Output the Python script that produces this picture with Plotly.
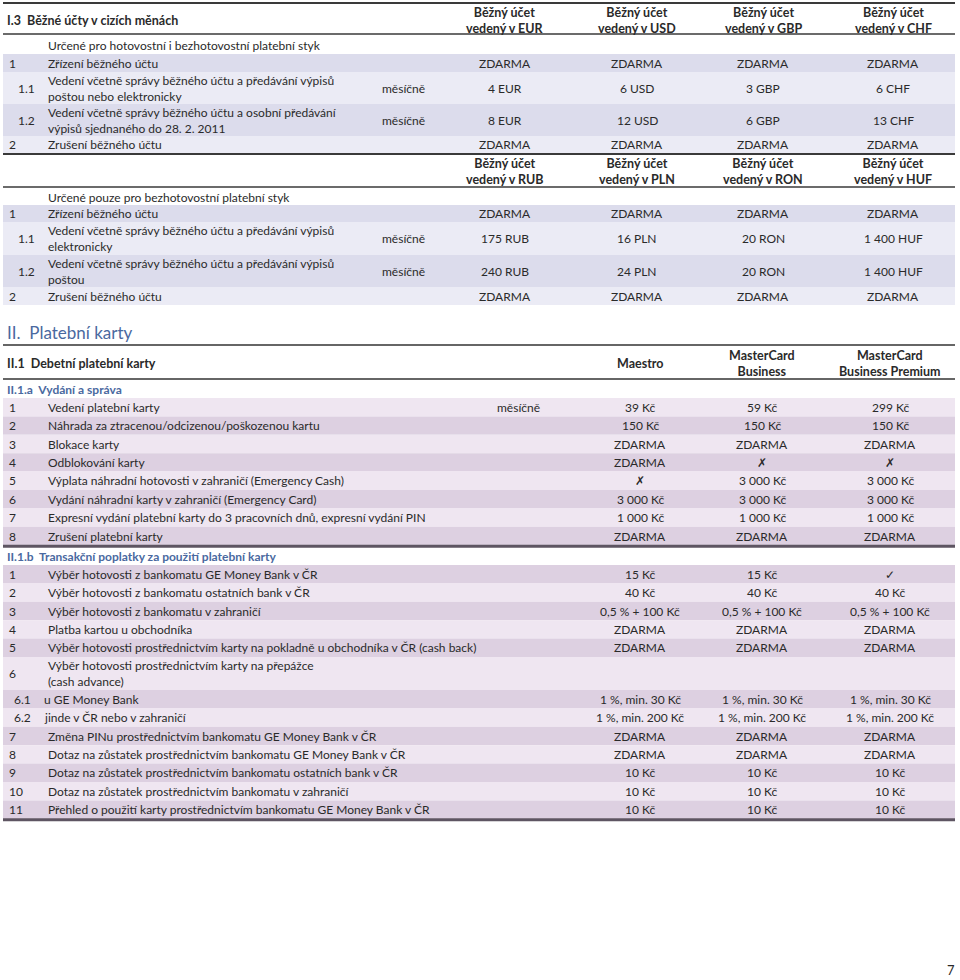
import plotly.graph_objects as go

# ---------------- data ----------------
fx_cols_a = ["EUR", "USD", "GBP", "CHF"]
fx_cols_b = ["RUB", "PLN", "RON", "HUF"]
fx_nums = ["1", "1.1", "1.2", "2"]
fx_labels_a = [
    "Zřízení běžného účtu",
    "Vedení včetně správy běžného účtu a předávání výpisů<br>poštou nebo elektronicky",
    "Vedení včetně správy běžného účtu a osobní předávání<br>výpisů sjednaného do 28. 2. 2011",
    "Zrušení běžného účtu",
]
fx_labels_b = [
    "Zřízení běžného účtu",
    "Vedení včetně správy běžného účtu a předávání výpisů<br>elektronicky",
    "Vedení včetně správy běžného účtu a předávání výpisů<br>poštou",
    "Zrušení běžného účtu",
]
fx_period = ["", "měsíčně", "měsíčně", ""]
eur = ["ZDARMA", "4 EUR", "8 EUR", "ZDARMA"]
usd = ["ZDARMA", "6 USD", "12 USD", "ZDARMA"]
gbp = ["ZDARMA", "3 GBP", "6 GBP", "ZDARMA"]
chf = ["ZDARMA", "6 CHF", "13 CHF", "ZDARMA"]
rub = ["ZDARMA", "175 RUB", "240 RUB", "ZDARMA"]
pln = ["ZDARMA", "16 PLN", "24 PLN", "ZDARMA"]
ron = ["ZDARMA", "20 RON", "20 RON", "ZDARMA"]
huf = ["ZDARMA", "1 400 HUF", "1 400 HUF", "ZDARMA"]

card_cols = ["Maestro", "MasterCard<br>Business", "MasterCard<br>Business Premium"]

issue_nums = ["1", "2", "3", "4", "5", "6", "7", "8"]
issue_labels = [
    "Vedení platební karty",
    "Náhrada za ztracenou/odcizenou/poškozenou kartu",
    "Blokace karty",
    "Odblokování karty",
    "Výplata náhradní hotovosti v zahraničí (Emergency Cash)",
    "Vydání náhradní karty v zahraničí (Emergency Card)",
    "Expresní vydání platební karty do 3 pracovních dnů, expresní vydání PIN",
    "Zrušení platební karty",
]
issue_period = ["měsíčně", "", "", "", "", "", "", ""]
issue_maestro = ["39 Kč", "150 Kč", "ZDARMA", "ZDARMA", "✗", "3 000 Kč", "1 000 Kč", "ZDARMA"]
issue_business = ["59 Kč", "150 Kč", "ZDARMA", "✗", "3 000 Kč", "3 000 Kč", "1 000 Kč", "ZDARMA"]
issue_premium = ["299 Kč", "150 Kč", "ZDARMA", "✗", "3 000 Kč", "3 000 Kč", "1 000 Kč", "ZDARMA"]

tx_nums = ["1", "2", "3", "4", "5", "6", "6.1", "6.2", "7", "8", "9", "10", "11"]
tx_labels = [
    "Výběr hotovosti z bankomatu GE Money Bank v ČR",
    "Výběr hotovosti z bankomatu ostatních bank v ČR",
    "Výběr hotovosti z bankomatu v zahraničí",
    "Platba kartou u obchodníka",
    "Výběr hotovosti prostřednictvím karty na pokladně u obchodníka v ČR (cash back)",
    "Výběr hotovosti prostřednictvím karty na přepážce<br>(cash advance)",
    "u GE Money Bank",
    "jinde v ČR nebo v zahraničí",
    "Změna PINu prostřednictvím bankomatu GE Money Bank v ČR",
    "Dotaz na zůstatek prostřednictvím bankomatu GE Money Bank v ČR",
    "Dotaz na zůstatek prostřednictvím bankomatu ostatních bank v ČR",
    "Dotaz na zůstatek prostřednictvím bankomatu v zahraničí",
    "Přehled o použití karty prostřednictvím bankomatu GE Money Bank v ČR",
]
tx_maestro = ["15 Kč", "40 Kč", "0,5 % + 100 Kč", "ZDARMA", "ZDARMA", "",
              "1 %, min. 30 Kč", "1 %, min. 200 Kč", "ZDARMA", "ZDARMA",
              "10 Kč", "10 Kč", "10 Kč"]
tx_business = ["15 Kč", "40 Kč", "0,5 % + 100 Kč", "ZDARMA", "ZDARMA", "",
               "1 %, min. 30 Kč", "1 %, min. 200 Kč", "ZDARMA", "ZDARMA",
               "10 Kč", "10 Kč", "10 Kč"]
tx_premium = ["✓", "40 Kč", "0,5 % + 100 Kč", "ZDARMA", "ZDARMA", "",
              "1 %, min. 30 Kč", "1 %, min. 200 Kč", "ZDARMA", "ZDARMA",
              "10 Kč", "10 Kč", "10 Kč"]

# ---------------- styling ----------------
FONT = "Lato, 'Open Sans', sans-serif"
TXT = "#2a2a2a"
BLUE = "#4a69a0"
FX_BANDS = ["#dcdcec", "#ebebf5"]
CARD_BANDS = ["#efe6f1", "#ddd0e1"]
X0, X1 = 3, 955

ann = []
shapes = []


def text(x, y, s, anchor="left", size=12, color=TXT, bold=False):
    ann.append(dict(x=x, y=y, xref="x", yref="y", text=f"<b>{s}</b>" if bold else s,
                    showarrow=False, xanchor=anchor, yanchor="middle",
                    align="center" if anchor == "center" else "left",
                    font=dict(size=size, color=color, family=FONT)))


def band(y0, y1, color):
    shapes.append(dict(type="rect", xref="x", yref="y", x0=X0, x1=X1, y0=y0, y1=y1,
                       fillcolor=color, line_width=0, layer="below"))


def hline(y, width, color):
    shapes.append(dict(type="line", xref="x", yref="y", x0=X0, x1=X1, y0=y, y1=y,
                       line=dict(color=color, width=width)))


def rows(top, heights, colors, nums, labels, period, values, xcols, period_x,
         sub_x, sub_label_x):
    y = top
    for i, h in enumerate(heights):
        band(y, y + h, colors[i % 2])
        cy = y + h / 2
        if "." in nums[i]:
            text(sub_x, cy, nums[i], anchor="right")
            text(sub_label_x, cy, labels[i])
        else:
            text(7, cy, nums[i])
            text(46, cy, labels[i])
        if period[i]:
            text(period_x, cy, period[i])
        for xc, col in zip(xcols, values):
            if col[i]:
                text(xc, cy, col[i], anchor="center")
        y += h
    return y


# ---------- I.3 foreign currency accounts ----------
fx_x = [505, 637, 763, 893]
hline(3, 2, "#3a3a3a")
text(5, 20, "I.3  Běžné účty v cizích měnách", bold=True, size=12.5)
for xc, c in zip(fx_x, fx_cols_a):
    text(xc, 20, f"Běžný účet<br>vedený v {c}", anchor="center", bold=True, size=12.5)
hline(34, 1.5, "#3a3a3a")
text(46, 45, "Určené pro hotovostní i bezhotovostní platební styk")
rows(54, [18, 32, 32, 17], FX_BANDS, fx_nums, fx_labels_a, fx_period,
     [eur, usd, gbp, chf], fx_x, 380, 37, 46)
hline(154, 2, "#3a3a3a")

for xc, c in zip(fx_x, fx_cols_b):
    text(xc, 171, f"Běžný účet<br>vedený v {c}", anchor="center", bold=True, size=12.5)
hline(187, 1.5, "#3a3a3a")
text(46, 197, "Určené pouze pro bezhotovostní platební styk")
rows(205, [17, 33, 32, 18], FX_BANDS, fx_nums, fx_labels_b, fx_period,
     [rub, pln, ron, huf], fx_x, 380, 37, 46)

# ---------- II. payment cards ----------
card_x = [640, 762, 890]
text(5, 332, "II.  Platební karty", size=17, color=BLUE)
hline(345, 1.5, "#333333")
text(5, 363, "II.1  Debetní platební karty", bold=True, size=12.5)
for xc, c in zip(card_x, card_cols):
    text(xc, 363, c, anchor="center", bold=True, size=12.5)
hline(379, 1.5, "#333333")

text(5, 389, "II.1.a  Vydání a správa", color=BLUE, bold=True)
rh = 18.4
end = rows(398, [rh] * 8, CARD_BANDS, issue_nums, issue_labels, issue_period,
           [issue_maestro, issue_business, issue_premium], card_x, 495, 33, 42)
hline(end + 1, 3, "#5e5562")

text(5, 556, "II.1.b  Transakční poplatky za použití platební karty", color=BLUE, bold=True)
tx_heights = [rh] * 5 + [33] + [rh] * 7
end = rows(565, tx_heights, CARD_BANDS[::-1], tx_nums, tx_labels, [""] * len(tx_nums),
           [tx_maestro, tx_business, tx_premium], card_x, 495, 33, 42)
hline(end + 1, 3, "#5e5562")

text(957, 970, "7", anchor="right", size=13)

fig = go.Figure()
fig.update_layout(
    width=960, height=980, margin=dict(l=0, r=0, t=0, b=0),
    paper_bgcolor="white", plot_bgcolor="white", showlegend=False,
    xaxis=dict(range=[0, 960], visible=False, fixedrange=True),
    yaxis=dict(range=[980, 0], visible=False, fixedrange=True),
    annotations=ann, shapes=shapes,
)
fig.write_html("out.html", config={"displayModeBar": False},
               post_script="document.body.style.margin='0';document.body.style.overflow='hidden';")
